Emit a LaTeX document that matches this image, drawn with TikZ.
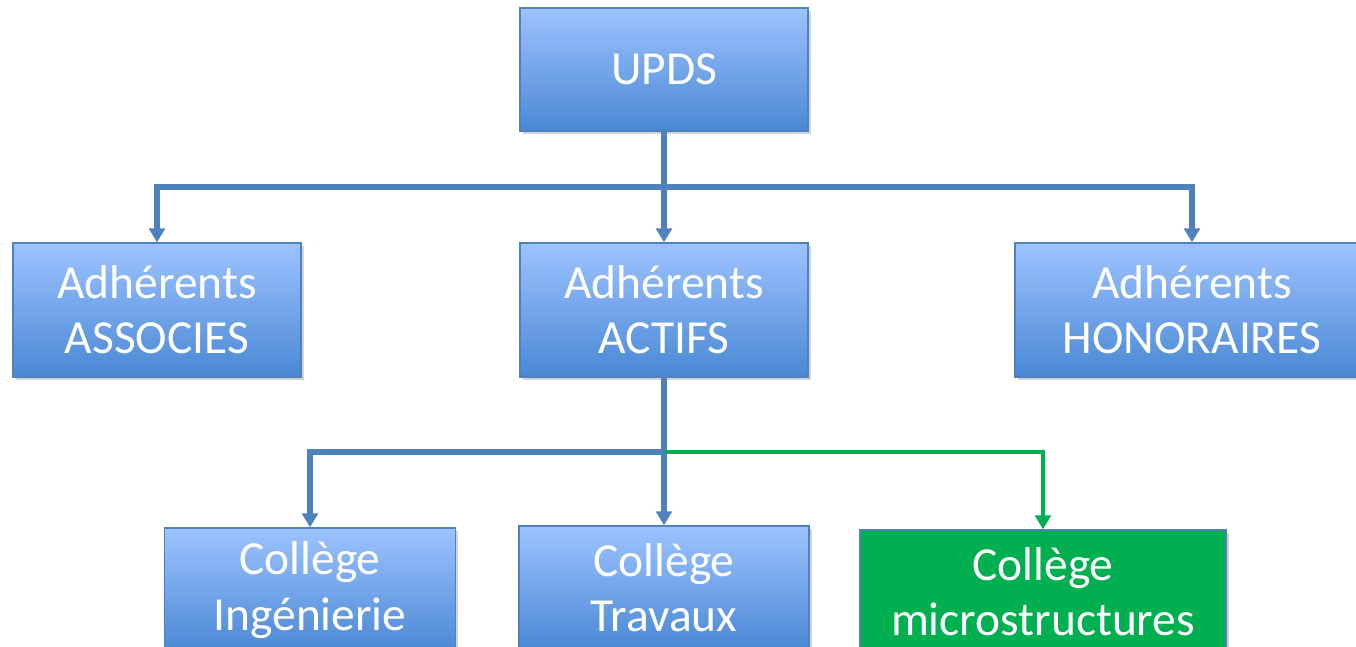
\documentclass[tikz,border=0pt]{standalone}
\usepackage{xcolor}
\usepackage{fontspec}
\setmainfont{Carlito}
\usepackage{tikz}
\usetikzlibrary{arrows.meta,shadows}

\definecolor{boxtop}{HTML}{9DC3FF}
\definecolor{boxbot}{HTML}{4A88D4}
\definecolor{boxline}{HTML}{4F81BD}
\definecolor{linkblue}{HTML}{4F81BD}
\definecolor{linkgreen}{HTML}{00B050}

\begin{document}
\begin{tikzpicture}[x=0.02cm,y=-0.02cm,
    >={Triangle[width=9pt,length=8pt]},
    main box/.style={rectangle,draw=boxline,line width=0.8pt,top color=boxtop,bottom color=boxbot,
      text=white,align=center,minimum width=5.76cm,minimum height=2.68cm,inner sep=0pt,
      font=\fontsize{27}{31.5}\selectfont,
      drop shadow={shadow xshift=0.06cm,shadow yshift=-0.06cm,opacity=0.35}},
    green box/.style={main box,fill=linkgreen,top color=linkgreen,bottom color=linkgreen},
    link/.style={draw=linkblue,line width=3.4pt},
    green link/.style={draw=linkgreen,line width=2.3pt}]
  \useasboundingbox (0,0) rectangle (1356,646);
  % top
  \node[main box,minimum height=2.46cm] (upds) at (664,69.5) {UPDS};
  % adherents
  \node[main box] (assoc) at (157,310) {Adhérents\\ASSOCIES};
  \node[main box] (actifs) at (664,310) {Adhérents\\ACTIFS};
  \node[main box,minimum width=7.08cm] (honor) at (1192,310) {Adhérents\\HONORAIRES};
  % colleges
  \node[main box,minimum width=5.82cm,minimum height=2.48cm] (inge) at (310,590) {Collège\\Ingénierie};
  \node[main box,minimum width=5.8cm,minimum height=2.48cm] (trav) at (664,588) {Collège\\Travaux};
  \node[green box,minimum width=7.32cm,minimum height=2.48cm] (micro) at (1043,592) {Collège\\microstructures};
  % links
  \coordinate (hubA) at (664,187);
  \coordinate (hubB) at (664,452);
  \draw[link] (upds.south) -- (hubA);
  \draw[link,->] (hubA) -| (assoc.north);
  \draw[link,->] (hubA) -| (honor.north);
  \draw[link,->] (hubA) -- (actifs.north);
  \draw[link] (actifs.south) -- (hubB);
  \draw[green link,->] (hubB) -| (micro.north);
  \draw[link,->] (hubB) -| (inge.north);
  \draw[link,->] (hubB) -- (trav.north);
\end{tikzpicture}
\end{document}
